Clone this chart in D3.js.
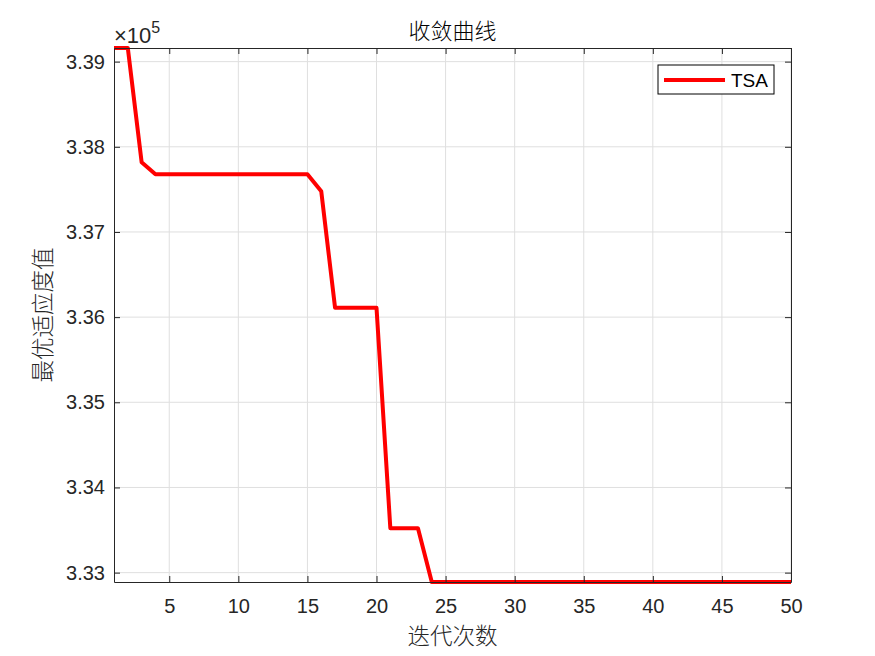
<!DOCTYPE html>
<html>
<head>
<meta charset="utf-8">
<script src="https://cdn.jsdelivr.net/npm/d3@7"></script>
<style>
  body { margin: 0; background: #fff; }
  #graphicContainer { width: 875px; height: 656px; }
  text { font-family: Arial, "Liberation Sans", "Noto Sans CJK SC", sans-serif; }
  .cjk { font-family: "Noto Sans CJK SC", sans-serif; font-weight: 300; }
</style>
</head>
<body>
<div id="graphicContainer"></div>
<script>

// iteration number and best fitness for the TSA run

var iterations = d3.range(1, 51);

var fitness = [339160, 339160, 337819, 337678, 337678, 337678, 337678, 337678, 337678, 337678,
	337678, 337678, 337678, 337678, 337678, 337479, 336110, 336110, 336110, 336110,
	333522, 333522, 333522, 332890, 332890, 332890, 332890, 332890, 332890, 332890,
	332890, 332890, 332890, 332890, 332890, 332890, 332890, 332890, 332890, 332890,
	332890, 332890, 332890, 332890, 332890, 332890, 332890, 332890, 332890, 332890];

var xTicks = [5, 10, 15, 20, 25, 30, 35, 40, 45, 50];
var yTicks = [333000, 334000, 335000, 336000, 337000, 338000, 339000];

var seriesName = "TSA";
var titleText = "收敛曲线";
var xLabel = "迭代次数";
var yLabel = "最优适应度值";

function draw_chart() {

	var width = 875, height = 656;
	var margin = {top: 48, right: 84, bottom: 74, left: 114};

	var svg = d3.select("#graphicContainer").append("svg")
		.attr("width", width)
		.attr("height", height);

	var x = d3.scaleLinear()
		.domain([1, 50])
		.range([margin.left, width - margin.right]);

	var y = d3.scaleLinear()
		.domain(d3.extent(fitness))
		.range([height - margin.bottom, margin.top]);

	var axisColor = "#262626";

	// grid lines

	var grid = svg.append("g");

	grid.selectAll(".gx")
		.data(xTicks)
		.enter()
		.append("line")
		.attr("x1", d => x(d))
		.attr("x2", d => x(d))
		.attr("y1", margin.top)
		.attr("y2", height - margin.bottom)
		.attr("stroke", "#dfdfdf")
		.attr("stroke-width", 1);

	grid.selectAll(".gy")
		.data(yTicks)
		.enter()
		.append("line")
		.attr("x1", margin.left)
		.attr("x2", width - margin.right)
		.attr("y1", d => y(d))
		.attr("y2", d => y(d))
		.attr("stroke", "#dfdfdf")
		.attr("stroke-width", 1);

	// the line itself

	var line = d3.line()
		.x((d, i) => x(iterations[i]))
		.y(d => y(d));

	svg.append("path")
		.datum(fitness)
		.attr("d", line)
		.attr("fill", "none")
		.attr("stroke", "#ff0000")
		.attr("stroke-width", 4)
		.attr("stroke-linejoin", "round");

	// axes with inward ticks, box all round

	var tickLen = 6;

	var xAxis = g => g
		.attr("transform", `translate(0,${height - margin.bottom})`)
		.call(d3.axisBottom(x).tickValues(xTicks).tickSize(-tickLen).tickPadding(17).tickSizeOuter(0))
		.call(g => g.selectAll("text").attr("font-size", 20).attr("fill", axisColor));

	var yAxis = g => g
		.attr("transform", `translate(${margin.left},0)`)
		.call(d3.axisLeft(y).tickValues(yTicks).tickSize(-tickLen).tickPadding(9).tickSizeOuter(0)
			.tickFormat(d => d3.format(".2f")(d / 1e5)))
		.call(g => g.selectAll("text").attr("font-size", 20).attr("fill", axisColor));

	var topAxis = g => g
		.attr("transform", `translate(0,${margin.top})`)
		.call(d3.axisTop(x).tickValues(xTicks).tickSize(-tickLen).tickFormat("").tickSizeOuter(0));

	var rightAxis = g => g
		.attr("transform", `translate(${width - margin.right},0)`)
		.call(d3.axisRight(y).tickValues(yTicks).tickSize(-tickLen).tickFormat("").tickSizeOuter(0));

	var axes = [xAxis, yAxis, topAxis, rightAxis];

	axes.forEach(function(ax) {
		svg.append("g")
			.call(ax)
			.call(g => g.select(".domain").attr("stroke", axisColor))
			.call(g => g.selectAll(".tick line").attr("stroke", axisColor));
	});

	// exponent label

	var expLabel = svg.append("text")
		.attr("x", margin.left)
		.attr("y", margin.top - 5)
		.style("font-size", "22px")
		.attr("fill", axisColor);
	expLabel.append("tspan").text("×10");
	expLabel.append("tspan")
		.style("font-size", "16px")
		.attr("dy", -10)
		.text("5");

	// title and axis labels

	svg.append("text")
		.attr("class", "cjk")
		.attr("x", (margin.left + width - margin.right) / 2)
		.attr("y", 39)
		.attr("text-anchor", "middle")
		.attr("font-size", 22)
		.attr("fill", "#000")
		.text(titleText);

	svg.append("text")
		.attr("class", "cjk")
		.attr("x", (margin.left + width - margin.right) / 2)
		.attr("y", 644)
		.attr("text-anchor", "middle")
		.attr("font-size", 22.5)
		.attr("fill", axisColor)
		.text(xLabel);

	svg.append("text")
		.attr("class", "cjk")
		.attr("transform", `translate(51,${(margin.top + height - margin.bottom) / 2}) rotate(-90)`)
		.attr("text-anchor", "middle")
		.attr("font-size", 22.5)
		.attr("fill", axisColor)
		.text(yLabel);

	// legend

	var legend = svg.append("g")
		.attr("transform", "translate(658,65)");

	legend.append("rect")
		.attr("width", 116)
		.attr("height", 29)
		.attr("fill", "#fff")
		.attr("stroke", "#000")
		.attr("stroke-width", 1);

	legend.append("line")
		.attr("x1", 6)
		.attr("x2", 67)
		.attr("y1", 15)
		.attr("y2", 15)
		.attr("stroke", "#ff0000")
		.attr("stroke-width", 4);

	legend.append("text")
		.attr("x", 73)
		.attr("y", 22)
		.attr("font-size", 19)
		.attr("fill", "#000")
		.text(seriesName);
}

draw_chart();

</script>
</body>
</html>
